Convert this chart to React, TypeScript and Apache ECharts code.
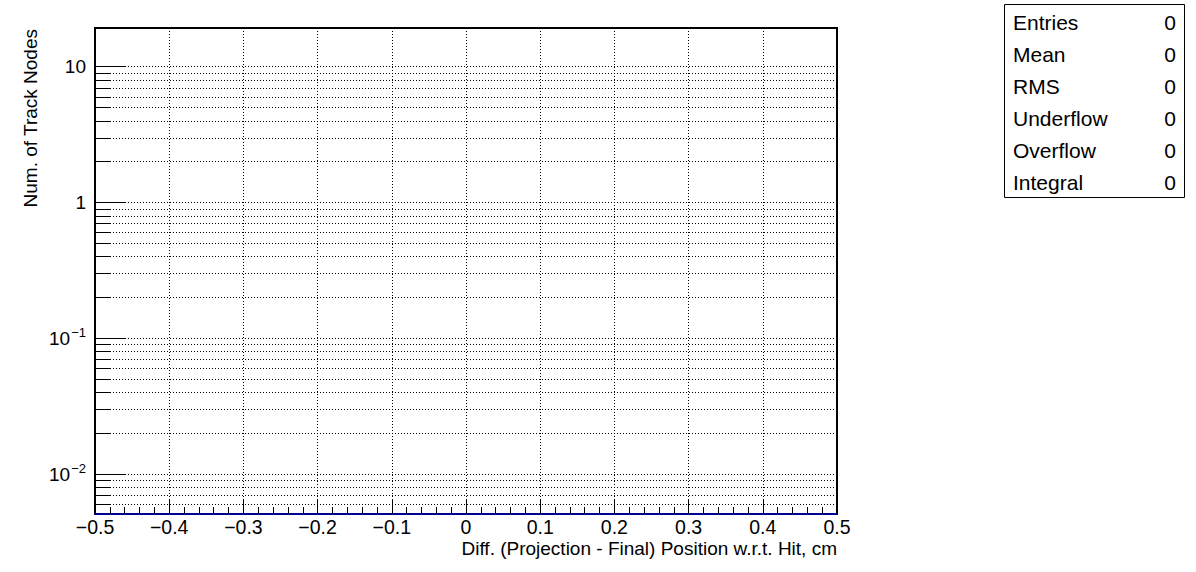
import React, { useEffect, useRef } from "react";
import * as echarts from "echarts";

// ---- data ----
const xMin = -0.5;
const xMax = 0.5;
const xInterval = 0.1;
const yMin = 0.00508;
const yMax = 19.2;
// minor decade ticks (2..9 x 10^k) inside the visible range
const yMinorTicks = [
  0.006, 0.007, 0.008, 0.009,
  0.02, 0.03, 0.04, 0.05, 0.06, 0.07, 0.08, 0.09,
  0.2, 0.3, 0.4, 0.5, 0.6, 0.7, 0.8, 0.9,
  2, 3, 4, 5, 6, 7, 8, 9,
];
const xTitle = "Diff. (Projection - Final) Position w.r.t. Hit, cm";
const yTitle = "Num. of Track Nodes";
const statNames = ["Entries", "Mean", "RMS", "Underflow", "Overflow", "Integral"];
const statValues = ["0", "0", "0", "0", "0", "0"];

const FONT = "'Liberation Sans', Arial, Helvetica, sans-serif";

export default function App() {
  const ref = useRef<HTMLDivElement>(null);
  useEffect(() => {
    if (!ref.current) return;
    const chart = echarts.init(ref.current, null, { renderer: "svg" });

    const gridL = 95, gridT = 28, gridW = 742, gridH = 486;

    const statGraphics: any[] = [];
    statNames.forEach((n, i) => {
      const y = 22 + i * 32.1;
      statGraphics.push({
        type: "text", x: 1013, y, style: { text: n, fill: "#000", font: `21px ${FONT}`, textVerticalAlign: "middle", textAlign: "left" },
      });
      statGraphics.push({
        type: "text", x: 1176, y, style: { text: statValues[i], fill: "#000", font: `21px ${FONT}`, textVerticalAlign: "middle", textAlign: "right" },
      });
    });

    const option: any = {
      animation: false,
      backgroundColor: "#fff",
      grid: {
        left: gridL, top: gridT, width: gridW, height: gridH,
        show: true, borderColor: "#000", borderWidth: 2, backgroundColor: "transparent",
      },
      xAxis: {
        type: "value", min: xMin, max: xMax, interval: xInterval,
        axisLine: { show: true, onZero: false, lineStyle: { color: "#000099", width: 2 } },
        axisTick: { show: true, inside: true, length: 15, lineStyle: { color: "#000", width: 1 } },
        minorTick: { show: true, splitNumber: 5, length: 7, lineStyle: { color: "#000", width: 1 } },
        splitLine: { show: true, lineStyle: { color: "#000", width: 1, type: [1, 2] } },
        axisLabel: {
          color: "#000", fontSize: 19.5, fontFamily: FONT, margin: 3, lineHeight: 19,
          formatter: (v: number) => {
            const r = Math.round(v * 10) / 10;
            return r === 0 ? "0" : String(r).replace("-", "\u2212");
          },
        },
      },
      yAxis: {
        type: "log", logBase: 10, min: yMin, max: yMax,
        axisLine: { show: true, onZero: false, lineStyle: { color: "#000", width: 2 } },
        axisTick: { show: true, inside: true, length: 31, lineStyle: { color: "#000", width: 1 } },
        splitLine: { show: true, lineStyle: { color: "#000", width: 1, type: [1, 2] } },
        axisLabel: {
          color: "#000", fontSize: 19, fontFamily: FONT, margin: 9,
          showMinLabel: false, showMaxLabel: false,
          formatter: (v: number) => {
            const l = Math.log10(v);
            const e = Math.round(l);
            if (Math.abs(l - e) > 1e-6) return "";
            if (e === 1) return "10";
            if (e === 0) return "1";
            return "10{sup|" + (e < 0 ? "\u2212" : "") + Math.abs(e) + "}";
          },
          rich: {
            sup: { fontSize: 13, fontFamily: FONT, color: "#000", verticalAlign: "top", padding: [0, 0, 12, 1] },
          },
        },
      },
      series: [
        {
          type: "custom",
          coordinateSystem: "cartesian2d",
          silent: true,
          clip: false,
          encode: { x: 0, y: 1 },
          data: yMinorTicks.map((v) => [xMin, v]),
          renderItem: (params: any, api: any) => {
            const v = api.value(1);
            const p0 = api.coord([xMin, v]);
            const p1 = api.coord([xMax, v]);
            const y = Math.round(p0[1]) + 0.5;
            return {
              type: "group",
              children: [
                { type: "line", shape: { x1: p0[0], y1: y, x2: p1[0], y2: y }, style: { stroke: "#000", lineWidth: 1, lineDash: [1, 2] } },
                { type: "line", shape: { x1: p0[0], y1: y, x2: p0[0] + 15, y2: y }, style: { stroke: "#000", lineWidth: 1 } },
              ],
            };
          },
        },
      ],
      graphic: [
        {
          type: "text", x: gridL + gridW, y: 548,
          style: { text: xTitle, fill: "#000", font: `19px ${FONT}`, lineHeight: 18, textAlign: "right", textVerticalAlign: "middle" },
        },
        {
          type: "text", x: 30, y: 29, rotation: Math.PI / 2,
          style: { text: yTitle, fill: "#000", font: `19px ${FONT}`, textAlign: "right", textVerticalAlign: "middle" },
        },
        {
          type: "rect", shape: { x: 1004.5, y: 4.5, width: 180, height: 193 },
          style: { fill: "#fff", stroke: "#000", lineWidth: 1 },
        },
        ...statGraphics,
      ],
    };
    chart.setOption(option);
    return () => chart.dispose();
  }, []);
  return <div ref={ref} style={{ position: "fixed", left: 0, top: 0, width: 1196, height: 572 }} />;
}
